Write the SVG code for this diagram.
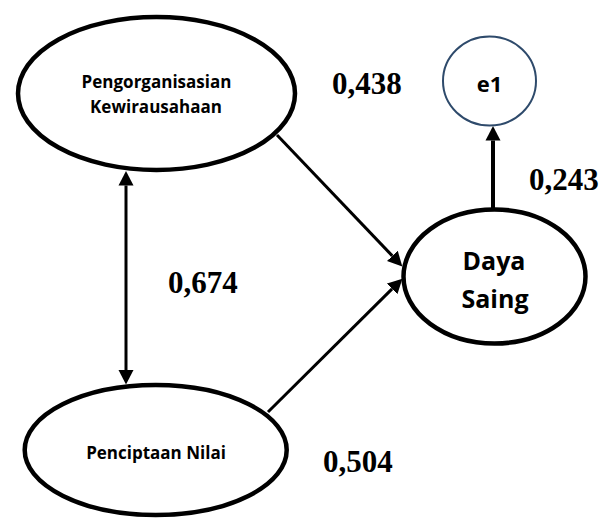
<svg xmlns="http://www.w3.org/2000/svg" width="612" height="518" viewBox="0 0 612 518">
<style>
.node{fill:#fff;stroke:#000;stroke-width:4.5}
.err{fill:#fff;stroke:#2E4A6B;stroke-width:2}
.lbl{font-family:"Open Sans","Noto Sans",sans-serif;font-weight:bold;fill:#000;text-anchor:middle}
.num{font-family:"Liberation Serif","Times New Roman",serif;font-weight:bold;font-size:31px;fill:#000}
.conn{stroke:#000;stroke-width:3;fill:none}
</style>
<defs>
<marker id="ah" markerUnits="userSpaceOnUse" markerWidth="15" markerHeight="16" refX="0" refY="8" orient="auto-start-reverse" viewBox="0 0 15 16">
<path d="M0,0.5 L14.5,8 L0,15.5 z" fill="#000"/>
</marker>
</defs>
<g id="connectors">
<path class="conn" d="M126,185.5 L126,370" marker-start="url(#ah)" marker-end="url(#ah)"/>
<path class="conn" d="M277,135 L392.3,255.9" marker-end="url(#ah)"/>
<path class="conn" d="M268,412 L392.1,288.9" marker-end="url(#ah)"/>
<path class="conn" style="stroke-width:4" d="M493,209.5 L493,140.5" marker-end="url(#ah)"/>
</g>
<g id="node-pengorganisasian">
<ellipse class="node" cx="156.5" cy="93.5" rx="138.5" ry="76.5"/>
<text class="lbl" x="156.5" y="88" font-size="17">Pengorganisasian</text>
<text class="lbl" x="156" y="113" font-size="17">Kewirausahaan</text>
</g>
<g id="node-penciptaan">
<ellipse class="node" cx="155.7" cy="450" rx="131" ry="65"/>
<text class="lbl" x="156" y="459" font-size="17">Penciptaan Nilai</text>
</g>
<g id="node-daya-saing">
<ellipse class="node" cx="494.5" cy="276.5" rx="91" ry="67"/>
<text class="lbl" x="494" y="270" font-size="25">Daya</text>
<text class="lbl" x="495" y="308" font-size="25">Saing</text>
</g>
<g id="node-e1">
<ellipse class="err" cx="489.5" cy="81" rx="46.5" ry="44.5"/>
<text class="lbl" x="489.5" y="92" font-size="22">e1</text>
</g>
<g id="labels">
<text class="num" x="332" y="94">0,438</text>
<text class="num" x="529" y="190">0,243</text>
<text class="num" x="168" y="293">0,674</text>
<text class="num" x="323" y="472">0,504</text>
</g>
</svg>
